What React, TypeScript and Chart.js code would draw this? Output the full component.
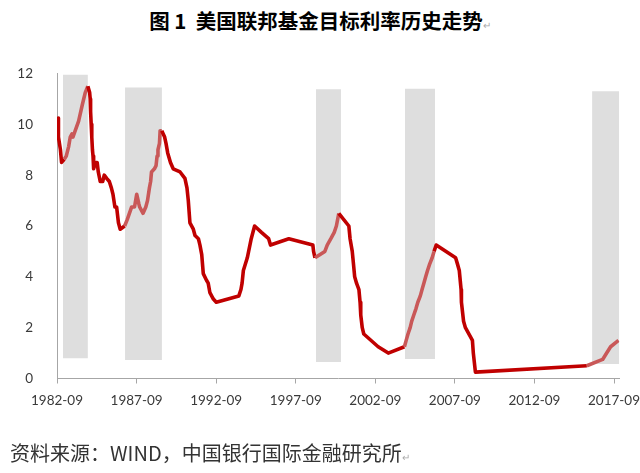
import React, { useEffect, useRef } from "react";
import { Chart, registerables } from "chart.js";

Chart.register(...registerables);

// Fed funds target rate (change dates and levels, %)
const rateDates = [
  "1982-09-27", "1982-10-01", "1982-10-07", "1982-11-19", "1982-12-14",
  "1983-02-15", "1983-03-31", "1983-05-25", "1983-07-01", "1983-08-10", "1983-09-01",
  "1984-01-10", "1984-04-01", "1984-06-10", "1984-08-09",
  "1984-09-20", "1984-10-02", "1984-10-11", "1984-10-25", "1984-11-08", "1984-11-23", "1984-12-06", "1984-12-20",
  "1985-01-10", "1985-02-14", "1985-03-10", "1985-04-05", "1985-05-20", "1985-07-15", "1985-08-20", "1985-10-15", "1985-12-15",
  "1986-02-01", "1986-03-07", "1986-04-21", "1986-05-30", "1986-07-11", "1986-08-21", "1986-12-01",
  "1987-01-30", "1987-05-10", "1987-07-15", "1987-09-04", "1987-10-22", "1987-11-10",
  "1988-01-28", "1988-03-30", "1988-05-09", "1988-06-22", "1988-07-19", "1988-08-09", "1988-10-15", "1988-11-22", "1988-12-15",
  "1989-01-05", "1989-02-09", "1989-02-24", "1989-03-31", "1989-06-06", "1989-07-07", "1989-08-15", "1989-10-18", "1989-12-20",
  "1990-05-25", "1990-09-15", "1990-11-01", "1990-12-01",
  "1991-01-08", "1991-03-25", "1991-05-03", "1991-07-20", "1991-08-25", "1991-10-05", "1991-11-10",
  "1992-01-20", "1992-03-01", "1992-04-10", "1992-06-28", "1992-09-04",
  "1994-02-04", "1994-03-22", "1994-04-18", "1994-05-17", "1994-08-16", "1994-11-15",
  "1995-02-01", "1995-07-06", "1995-12-19", "1996-01-31", "1997-03-25",
  "1998-09-29", "1998-10-15", "1998-11-17",
  "1999-06-30", "1999-08-24", "1999-11-16", "2000-02-02", "2000-03-21", "2000-05-16",
  "2001-01-03", "2001-01-31", "2001-03-20", "2001-04-18", "2001-05-15", "2001-06-27",
  "2001-08-21", "2001-09-17", "2001-10-02", "2001-11-06", "2001-12-11",
  "2002-11-06", "2003-06-25",
  "2004-06-30", "2004-08-10", "2004-09-21", "2004-11-10", "2004-12-14",
  "2005-02-02", "2005-03-22", "2005-05-03", "2005-06-30", "2005-08-09", "2005-09-20", "2005-11-01", "2005-12-13",
  "2006-01-31", "2006-03-28", "2006-05-10", "2006-06-29",
  "2007-09-18", "2007-10-31", "2007-12-11",
  "2008-01-22", "2008-01-30", "2008-03-18", "2008-04-30", "2008-10-08", "2008-10-29", "2008-12-16",
  "2015-12-16", "2016-12-14", "2017-03-15", "2017-06-14", "2017-12-13",
];

const rateValues = [
  10.25, 10.0, 9.5, 9.0, 8.5,
  8.625, 8.75, 9.125, 9.5, 9.625, 9.5,
  10.125, 10.75, 11.25, 11.5,
  11.25, 11.0, 10.5, 10.0, 9.5, 9.0, 8.75, 8.25,
  8.375, 8.5, 8.5, 8.125, 7.75, 7.75, 8.0, 7.875, 7.75,
  7.5, 7.25, 6.75, 6.75, 6.125, 5.875, 6.0,
  6.25, 6.75, 6.75, 7.25, 6.875, 6.75,
  6.5, 6.75, 7.0, 7.5, 7.75, 8.125, 8.25, 8.375, 8.75,
  9.0, 9.25, 9.75, 9.75, 9.5, 9.25, 8.875, 8.5, 8.25,
  8.125, 7.875, 7.5, 7.0,
  6.125, 5.875, 5.625, 5.5, 5.25, 4.875, 4.125,
  3.875, 3.75, 3.375, 3.125, 3.0,
  3.25, 3.5, 3.75, 4.25, 4.75, 5.5,
  6.0, 5.75, 5.5, 5.25, 5.5,
  5.25, 5.0, 4.75,
  5.0, 5.25, 5.5, 5.75, 6.0, 6.5,
  6.0, 5.5, 5.0, 4.5, 4.0, 3.75,
  3.5, 3.0, 2.5, 2.0, 1.75,
  1.25, 1.0,
  1.25, 1.5, 1.75, 2.0, 2.25,
  2.5, 2.75, 3.0, 3.25, 3.5, 3.75, 4.0, 4.25,
  4.5, 4.75, 5.0, 5.25,
  4.75, 4.5, 4.25,
  3.5, 3.0, 2.25, 2.0, 1.5, 1.0, 0.25,
  0.5, 0.75, 1.0, 1.25, 1.5,
];

// Shaded tightening periods
const hikeStarts = ["1983-01-15", "1986-12-10", "1998-12-10", "2004-07-12", "2016-04-15"];
const hikeEnds = ["1984-08-10", "1989-04-05", "2000-07-05", "2006-06-03", "2017-12-31"];
const hikeTops = [11.95, 11.45, 11.38, 11.4, 11.3];
const hikeBottoms = [0.8, 0.73, 0.65, 0.77, 0.57];

const xTickLabels = ["1982-09", "1987-09", "1992-09", "1997-09", "2002-09", "2007-09", "2012-09", "2017-09"];
const xMinLabel = "1982-09";
const xMaxLabel = "2017-12-31";
const yTickValues = [0, 2, 4, 6, 8, 10, 12];

const TITLE = "图 1  美国联邦基金目标利率历史走势";
const SOURCE = "资料来源：WIND，中国银行国际金融研究所";

function toYear(s: string): number {
  const parts = s.split("-").map(Number);
  const y = parts[0];
  const m = parts[1] || 1;
  const d = parts[2] || 1;
  return y + (m - 1) / 12 + (d - 1) / 365;
}

const DARK = "#c00000";
const LIGHT = "#c95858";
const BOX = "#dedede";
const AXIS = "#a6a6a6";
const TEXT = "#3a3a3a";

export default function App() {
  const ref = useRef<HTMLCanvasElement | null>(null);

  useEffect(() => {
    const canvas = ref.current;
    if (!canvas) return;
    const starts = hikeStarts.map(toYear);
    const ends = hikeEnds.map(toYear);
    const inHike = (a: number, b: number) => {
      const mid = (a + b) / 2;
      for (let i = 0; i < starts.length; i++) {
        if (mid >= starts[i] && mid <= ends[i]) return true;
      }
      return false;
    };

    const lineData = rateDates.map((d, i) => ({ x: toYear(d), y: rateValues[i] }));

    const boxSets = hikeStarts.map((s, i) => ({
      type: "line" as const,
      data: [
        { x: toYear(s), y: hikeTops[i] },
        { x: toYear(hikeEnds[i]), y: hikeTops[i] },
      ],
      borderWidth: 0,
      borderColor: "rgba(0,0,0,0)",
      backgroundColor: BOX,
      pointRadius: 0,
      fill: { value: hikeBottoms[i] },
      order: 2,
    }));

    const chart = new Chart(canvas, {
      type: "line",
      data: {
        datasets: [
          {
            data: lineData,
            borderColor: DARK,
            borderWidth: 3.6,
            pointRadius: 0,
            fill: false,
            tension: 0,
            borderJoinStyle: "round",
            order: 0,
            segment: {
              borderColor: (ctx: any) =>
                inHike(ctx.p0.parsed.x, ctx.p1.parsed.x) ? LIGHT : DARK,
            },
          } as any,
          ...(boxSets as any[]),
        ],
      },
      options: {
        responsive: false,
        animation: false,
        events: [],
        layout: { padding: { left: 0, top: 73.5, right: 80.7, bottom: 64.5 } },
        plugins: {
          legend: { display: false },
          tooltip: { enabled: false },
          title: { display: false },
        },
        scales: {
          x: {
            type: "linear",
            min: toYear(xMinLabel),
            max: toYear(xMaxLabel),
            afterBuildTicks: (scale: any) => {
              scale.ticks = xTickLabels.map((l) => ({ value: toYear(l) }));
            },
            afterFit: (scale: any) => {
              scale.height = 30;
            },
            ticks: {
              autoSkip: false,
              maxRotation: 0,
              padding: 9,
              color: TEXT,
              font: { family: "Lato", size: 13.5 },
              callback: (_v: any, i: number) => xTickLabels[i],
            },
            grid: {
              display: true,
              drawOnChartArea: false,
              drawTicks: true,
              tickLength: 5,
              color: AXIS,
            },
            border: { display: true, color: AXIS, width: 1 },
          },
          y: {
            type: "linear",
            min: 0,
            max: 12,
            afterBuildTicks: (scale: any) => {
              scale.ticks = yTickValues.map((v) => ({ value: v }));
            },
            afterFit: (scale: any) => {
              scale.width = 57;
            },
            ticks: {
              padding: 24,
              color: TEXT,
              font: { family: "Lato", size: 13.5 },
            },
            grid: { display: false, drawTicks: false },
            border: { display: true, color: AXIS, width: 1 },
          },
        },
      } as any,
    });

    return () => chart.destroy();
  }, []);

  return (
    <div
      style={{
        position: "absolute",
        left: 0,
        top: 0,
        width: 640,
        height: 473,
        overflow: "hidden",
        background: "#fff",
      }}
    >
      <div
        style={{
          position: "absolute",
          left: 0,
          top: 7,
          width: 640,
          textAlign: "center",
          fontFamily: '"Noto Sans CJK SC", sans-serif',
          fontWeight: 700,
          fontSize: 20.5,
          lineHeight: "27px",
          color: "#000",
          whiteSpace: "pre",
        }}
      >
        {TITLE}
        <span style={{ fontSize: 10, color: "#aaa", fontWeight: 400 }}>↵</span>
      </div>
      <canvas
        ref={ref}
        width={700}
        height={473}
        style={{ position: "absolute", left: 0, top: 0, width: 700, height: 473 }}
      />
      <div
        style={{
          position: "absolute",
          left: 10,
          top: 439,
          fontFamily: '"Noto Sans CJK SC", sans-serif',
          fontWeight: 400,
          fontSize: 20,
          lineHeight: "27px",
          color: "#333",
          whiteSpace: "pre",
        }}
      >
        {SOURCE}
        <span style={{ fontSize: 10, color: "#aaa" }}>↵</span>
      </div>
    </div>
  );
}
